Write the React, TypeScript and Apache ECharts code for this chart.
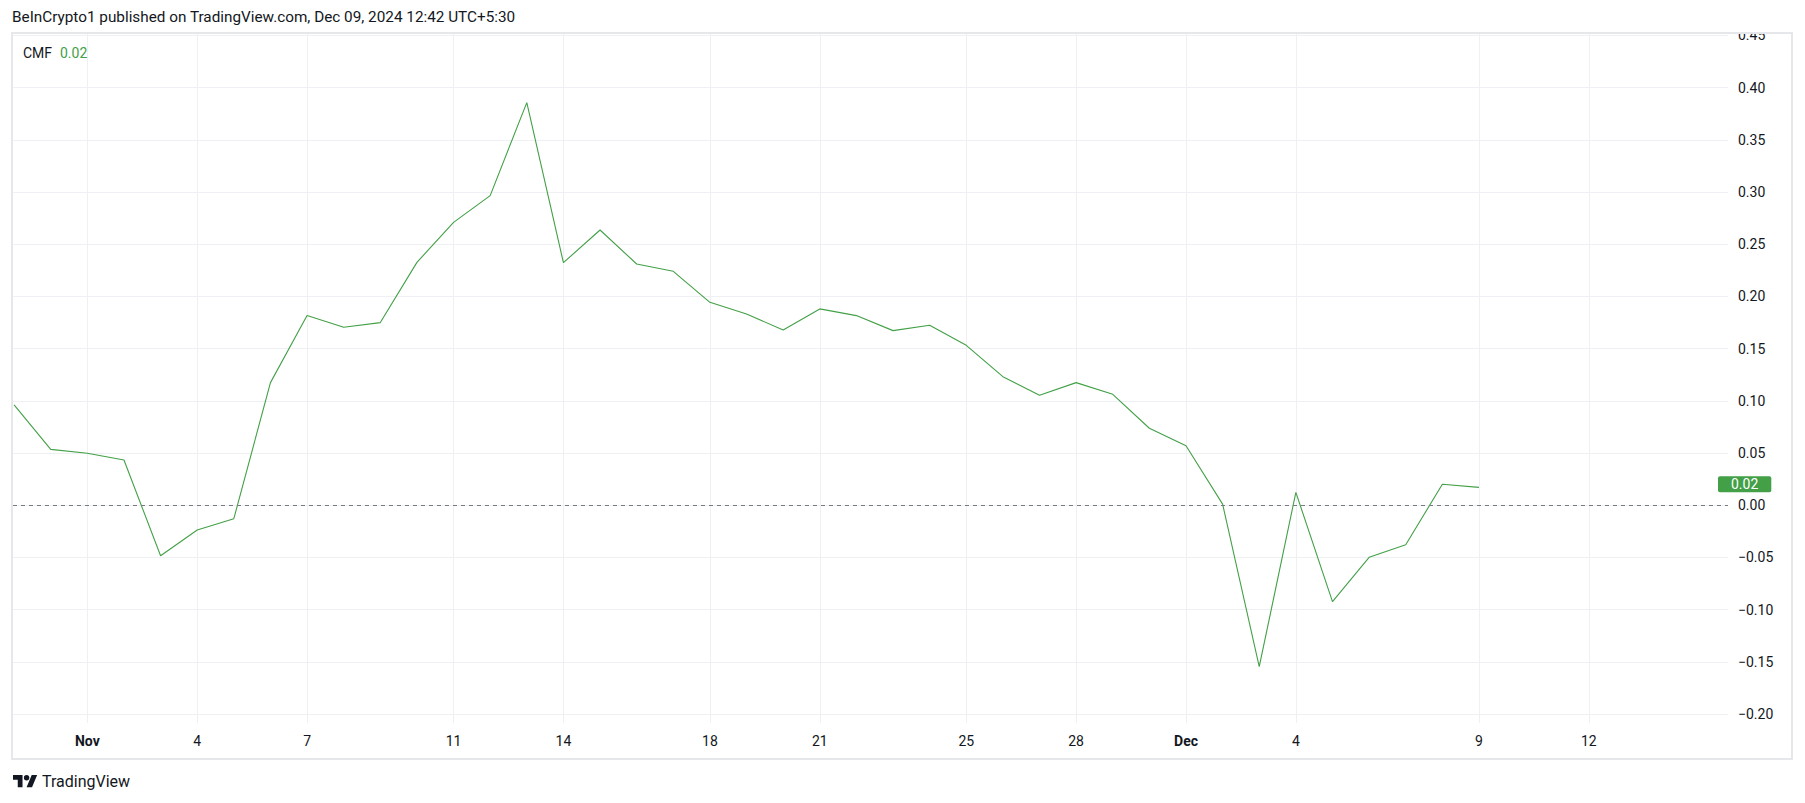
import React, { useEffect, useRef } from "react";
import * as echarts from "echarts";

// ---- data ----
const dates = [
  "Oct 30", "Oct 31", "Nov 1", "Nov 2", "Nov 3", "Nov 4", "Nov 5", "Nov 6", "Nov 7", "Nov 8",
  "Nov 9", "Nov 10", "Nov 11", "Nov 12", "Nov 13", "Nov 14", "Nov 15", "Nov 16", "Nov 17", "Nov 18",
  "Nov 19", "Nov 20", "Nov 21", "Nov 22", "Nov 23", "Nov 24", "Nov 25", "Nov 26", "Nov 27", "Nov 28",
  "Nov 29", "Nov 30", "Dec 1", "Dec 2", "Dec 3", "Dec 4", "Dec 5", "Dec 6", "Dec 7", "Dec 8", "Dec 9",
];
const cmf = [
  0.096, 0.0535, 0.0497, 0.0433, -0.0484, -0.0238, -0.0129, 0.1174, 0.1816, 0.1704,
  0.1749, 0.2326, 0.2709, 0.2965, 0.3856, 0.2323, 0.2636, 0.231, 0.224, 0.1943,
  0.1831, 0.1678, 0.188, 0.1816, 0.1672, 0.1723, 0.1531, 0.1231, 0.1053, 0.1174,
  0.1062, 0.0737, 0.057, 0.001, -0.1547, 0.0123, -0.0924, -0.0499, -0.0378, 0.02, 0.0171,
];
const xTickDays = [2, 5, 8, 12, 15, 19, 22, 26, 29, 32, 35, 40, 43];
const xTickLabels = ["Nov", "4", "7", "11", "14", "18", "21", "25", "28", "Dec", "4", "9", "12"];
const yTicks = [-0.2, -0.15, -0.1, -0.05, 0, 0.05, 0.1, 0.15, 0.2, 0.25, 0.3, 0.35, 0.4, 0.45];
const headerText = "BeInCrypto1 published on TradingView.com, Dec 09, 2024 12:42 UTC+5:30";
const indicatorName = "CMF";
const lastValueText = "0.02";

const GREEN = "#43a047";
const TEXT = "#131722";
const FONT = "Roboto, 'Noto Sans', sans-serif";

const TV_LOGO =
  "M14 22H7V11H0V4h14v18zM28 22h-8l7.5-18h8L28 22zM16 8a4 4 0 1 0 8 0a4 4 0 1 0 -8 0z";

let registered = false;

export default function App() {
  const ref = useRef<HTMLDivElement>(null);

  useEffect(() => {
    document.body.style.margin = "0";
    if (!registered) {
      echarts.graphic.registerShape("tvlogo", echarts.graphic.extendPath(TV_LOGO, {}) as any);
      registered = true;
    }
    const chart = echarts.init(ref.current!, null, { renderer: "svg" });
    const seriesData = cmf.map((v, i) => [i, v]);
    const last = cmf[cmf.length - 1];

    chart.setOption({
      animation: false,
      backgroundColor: "#ffffff",
      textStyle: { fontFamily: FONT },
      grid: {
        left: 13,
        right: 77,
        top: 34,
        bottom: 80,
        containLabel: false,
        outerBoundsMode: "none",
      },
      xAxis: {
        type: "value",
        min: -0.03,
        max: 46.8,
        axisLine: { show: false },
        axisTick: { show: false, customValues: xTickDays },
        splitLine: { show: true, lineStyle: { color: "#eff0f3", width: 1 } },
        axisLabel: {
          customValues: xTickDays,
          margin: 11,
          color: TEXT,
          fontSize: 14,
          fontFamily: FONT,
          formatter: (v: number) => {
            const i = xTickDays.indexOf(Math.round(v));
            const l = i >= 0 ? xTickLabels[i] : "";
            return l === "Nov" || l === "Dec" ? `{b|${l}}` : l;
          },
          rich: { b: { fontWeight: "bold", fontSize: 14, color: TEXT, fontFamily: FONT } },
        },
      },
      yAxis: {
        type: "value",
        position: "right",
        min: -0.2086,
        max: 0.4513,
        axisLine: { show: false },
        axisTick: { show: false, customValues: yTicks },
        splitLine: { show: true, lineStyle: { color: "#eff0f3", width: 1 } },
        axisLabel: {
          customValues: yTicks,
          margin: 10,
          color: TEXT,
          fontSize: 14,
          fontFamily: FONT,
          formatter: (v: number) => v.toFixed(2).replace("-", "\u2212"),
        },
      },
      series: [
        {
          type: "line",
          data: seriesData,
          showSymbol: false,
          symbol: "none",
          lineStyle: { color: GREEN, width: 1.1 },
          clip: true,
          z: 3,
          markLine: {
            silent: true,
            symbol: ["none", "none"],
            animation: false,
            data: [
              {
                yAxis: 0,
                lineStyle: { color: "#787b86", type: [4, 4], width: 1 },
                label: { show: false },
              },
              {
                yAxis: last,
                lineStyle: { color: "rgba(0,0,0,0)", width: 1, type: "solid" },
                label: {
                  show: true,
                  position: "end",
                  distance: -10,
                  formatter: lastValueText,
                  color: "#ffffff",
                  fontSize: 14,
                  fontFamily: FONT,
                  backgroundColor: GREEN,
                  padding: [0, 13],
                  lineHeight: 16,
                  borderRadius: 2,
                },
              },
            ],
          },
        },
      ],
      graphic: [
        {
          type: "text",
          left: 12,
          top: 9,
          z: 120,
          style: { text: headerText, fill: TEXT, font: `15.3px ${FONT}` },
        },
        {
          type: "rect",
          shape: { x: 1690, y: 0, width: 115, height: 33 },
          style: { fill: "#ffffff" },
          z: 100,
        },
        {
          type: "rect",
          shape: { x: 12, y: 33, width: 1780, height: 726 },
          style: { fill: "none", stroke: "#e6e7ea", lineWidth: 2 },
          z: 101,
        },
        {
          type: "text",
          x: 23,
          y: 53,
          z: 120,
          style: { text: indicatorName, fill: TEXT, font: `14px ${FONT}`, verticalAlign: "middle" },
        },
        {
          type: "text",
          x: 60,
          y: 53,
          z: 120,
          style: { text: lastValueText, fill: GREEN, font: `14px ${FONT}`, verticalAlign: "middle" },
        },
        {
          type: "tvlogo",
          x: 13,
          y: 772.3,
          scaleX: 0.68,
          scaleY: 0.68,
          z: 120,
          style: { fill: TEXT },
        },
        {
          type: "text",
          x: 42,
          y: 781,
          z: 120,
          style: { text: "TradingView", fill: TEXT, font: `16px ${FONT}`, verticalAlign: "middle" },
        },
      ],
    });

    return () => chart.dispose();
  }, []);

  return <div ref={ref} style={{ width: 1805, height: 803 }} />;
}
